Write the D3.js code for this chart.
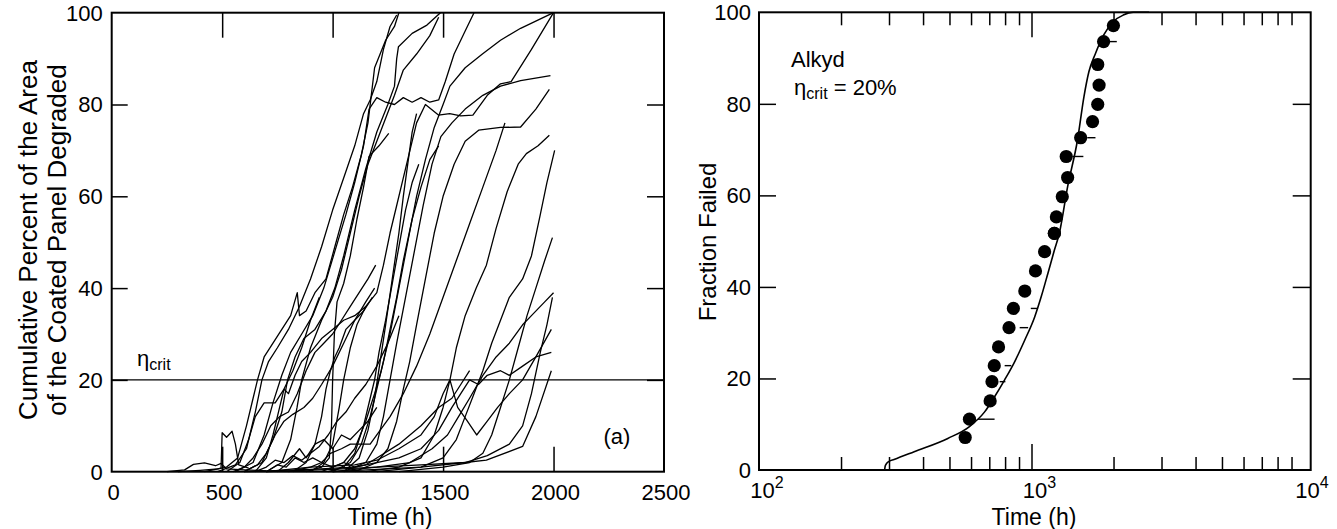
<!DOCTYPE html>
<html>
<head>
<meta charset="utf-8">
<script src="https://cdn.jsdelivr.net/npm/d3@7/dist/d3.min.js"></script>
<style>
  html, body { margin: 0; padding: 0; background: #fff; }
  svg { display: block; font-family: "Liberation Sans", Arial, Helvetica, sans-serif; }
  text { fill: #000; }
</style>
</head>
<body>
<svg id="chart" width="1337" height="529"></svg>
<script>
// ---------------- DATA ----------------
// Panel (a): tick values
const timeTicks = [0, 500, 1000, 1500, 2000, 2500];
const pctTicks = [0, 20, 40, 60, 80, 100];
const etaCrit = 20;

// Panel (a): degradation runs, each a list of [time (h), cumulative % degraded]
const runs = [
  [[250,0],[330,0.4],[370,1.6],[420,1.9],[470,1.3],[495,1.8],[520,0.6],[600,0.4],[700,0.2]],
  [[300,0],[400,0.3],[480,0.6],[495,0.8],[500,8.5],[520,7.5],[545,8.8],[560,6],[575,1.5],[620,0.8]],
  [[420,0],[520,1],[570,3],[610,10],[640,16],[660,20],[690,25],[730,28],[770,31],[810,34],[840,39],[850,34],[880,35],[920,39],[970,42],[1010,49],[1050,56],[1090,62],[1130,69],[1160,76],[1175,82],[1190,88],[1240,94],[1280,97],[1300,100]],
  [[480,0],[560,1.5],[610,5],[650,13],[680,20],[710,24],[750,27],[800,31],[850,36],[900,42],[950,49],[1000,57],[1050,64],[1100,71],[1140,78],[1170,81],[1200,85],[1230,92],[1260,97],[1290,99.5]],
  [[560,0],[640,2],[690,8],[730,15],[770,21],[810,26],[860,30],[910,34],[960,40],[1010,48],[1060,56],[1100,63],[1140,71],[1165,79],[1200,81.5],[1240,80.5],[1280,80],[1320,81.5],[1360,80.5],[1400,81.5],[1440,80.5],[1480,81],[1510,85],[1550,91],[1600,96],[1640,100]],
  [[600,0],[680,2],[730,7],[770,13],[796,20],[830,25],[870,29],[920,31],[970,35],[1010,40],[1050,47],[1100,57],[1150,66],[1200,74],[1250,80],[1280,84],[1290,90],[1298,92.6],[1360,95.5],[1427,97.3],[1488,100]],
  [[700,0],[770,2],[810,7],[839,14],[860,20],[900,27],[950,33],[1000,38],[1040,44],[1080,52],[1120,60],[1160,67],[1200,72],[1240,77],[1280,82],[1320,87.5],[1380,91],[1440,95],[1480,99]],
  [[880,0],[950,1],[985,3],[995,10],[1000,20],[1008,30],[1020,37],[1050,41],[1080,47],[1110,55],[1140,62],[1165,68.7],[1210,71],[1254,73.7]],
  [[900,0],[960,2],[1000,6],[1030,14],[1050,20],[1080,27],[1110,32],[1150,36],[1200,39],[1230,45],[1260,52],[1290,58],[1320,64],[1350,70],[1380,76],[1420,80],[1479,77.7],[1530,78],[1580,77.5],[1635,77.7],[1700,82],[1760,84.5],[1808,85],[1900,92],[2000,100]],
  [[950,0],[1050,2],[1100,5],[1150,11],[1190,17],[1220,22],[1260,30],[1300,40],[1340,50],[1380,60],[1420,68],[1460,75],[1500,80],[1531,84],[1600,88],[1678,91],[1760,94],[1851,96.6],[2000,100]],
  [[1050,0],[1150,2],[1200,6],[1230,12],[1260,20],[1290,28],[1330,38],[1370,48],[1410,58],[1450,67],[1490,73],[1540,76],[1600,79],[1680,82],[1760,84],[1851,85.2],[1986,86.3]],
  [[1100,0],[1200,2],[1250,5],[1290,11],[1320,18],[1349,24],[1380,32],[1420,42],[1460,52],[1500,60],[1550,67],[1600,72],[1661,74.4],[1760,75],[1851,75.1],[1920,79],[1981,83.3]],
  [[1150,0],[1300,1],[1400,3],[1460,8],[1500,14],[1531,20],[1560,27],[1600,34],[1650,40],[1696,45],[1740,53],[1790,61],[1840,67],[1877,69.3],[1930,71],[1981,73.3]],
  [[1200,0],[1400,1],[1500,3],[1560,7],[1600,12],[1640,17],[1680,22],[1720,28],[1760,33],[1800,38],[1860,42],[1900,47],[1940,56],[1970,63],[2005,70]],
  [[1300,0],[1500,1],[1620,2],[1680,4],[1720,8],[1760,14],[1800,20],[1840,27],[1880,34],[1920,40],[1960,46],[1995,51]],
  [[1000,0],[1200,1],[1350,2],[1450,5],[1520,8],[1570,12],[1620,16],[1680,21],[1740,25],[1800,28],[1860,32],[1900,34],[1960,37],[2000,39]],
  [[700,0],[900,1],[1100,1.5],[1200,2.5],[1300,5],[1400,8],[1460,12],[1500,17],[1531,20],[1566,14],[1610,11],[1652,8],[1700,11],[1747,14],[1800,17],[1860,20],[1920,25],[1990,31]],
  [[600,0],[900,0.5],[1100,1],[1200,2],[1300,3],[1400,5],[1480,9],[1540,14],[1580,17],[1620,20],[1660,19],[1700,21],[1760,22],[1800,21],[1860,23],[1920,25],[1990,26]],
  [[1000,0],[1200,0.5],[1400,1],[1600,2],[1700,3.5],[1800,6],[1860,10],[1900,17],[1940,26],[1970,32],[1995,38]],
  [[700,0],[1000,0.5],[1200,1],[1400,1.5],[1600,2],[1696,2.5],[1860,5.5],[1920,12],[1990,22]],
  [[550,0],[600,1],[640,3],[680,6],[720,10],[760,12],[800,13],[840,17],[880,22],[920,26],[960,28],[1000,30],[1040,33],[1080,36],[1120,39],[1160,42],[1195,45]],
  [[600,0],[660,1.5],[700,4],[740,8],[780,11],[820,12.5],[870,14],[910,16],[950,19],[1000,23],[1050,28],[1100,33],[1150,37],[1190,40]],
  [[650,0],[700,1],[740,2.5],[780,2],[820,3.5],[860,2.5],[900,4],[940,5.5],[980,8],[1020,11],[1060,13],[1100,16],[1150,19],[1200,23],[1250,28],[1300,34]],
  [[700,0],[750,1.5],[790,1],[830,3],[870,2],[910,3],[950,2],[990,4],[1040,5],[1080,6],[1130,6],[1170,6],[1200,8],[1260,12],[1320,17],[1380,23],[1440,30],[1500,38],[1560,46],[1620,54],[1680,62],[1740,70],[1780,76]],
  [[750,0],[800,2],[850,5],[880,3],[920,6],[960,7],[1000,5],[1040,8],[1080,7],[1120,9],[1160,11],[1200,14]],
  [[800,0],[900,1],[950,2],[1000,1],[1050,2],[1100,1],[1150,1.5],[1200,3],[1300,6],[1400,10],[1480,14],[1540,16],[1580,19],[1620,22]],
  [[980,0],[1050,1],[1100,4],[1140,10],[1170,16],[1190,20],[1210,26],[1240,33],[1270,41],[1300,49],[1330,57],[1360,63],[1390,67]],
  [[1000,0],[1080,2],[1130,6],[1170,12],[1200,18],[1230,24],[1260,31],[1290,38],[1320,46],[1360,55],[1400,62],[1440,68],[1480,71]],
  [[820,0],[880,2],[920,6],[950,12],[970,18],[990,22],[1010,25],[1030,27],[1060,31],[1100,33],[1140,35],[1180,38]],
  [[650,0],[700,3],[730,8],[760,14],[780,18],[800,17],[830,21],[860,24],[900,26],[950,29],[1000,31],[1050,33],[1100,34],[1150,36]],
  [[1050,0],[1120,3],[1160,9],[1190,16],[1215,24],[1240,32],[1270,42],[1300,52],[1320,60],[1340,67],[1360,74],[1380,78]],
  [[520,0],[580,2],[620,7],[650,12],[690,15],[740,15],[780,18],[820,22],[860,27],[900,33],[940,38]]
];

// Panel (b): failure times and fraction failed (Alkyd)
const failTimes = [571, 592, 705, 716, 730, 757, 827, 858, 945, 1034, 1117, 1213, 1213, 1234, 1297, 1357, 1341, 1515, 1675, 1750, 1770, 1750, 1839, 1998];
const failPct   = [7.1, 11.1, 15.1, 19.3, 22.8, 26.9, 31.1, 35.3, 39.1, 43.5, 47.7, 51.7, 51.7, 55.3, 59.7, 63.9, 68.5, 72.6, 76.1, 79.9, 84.1, 88.6, 93.6, 97.1];

// Panel (b): fitted model curve
const fitTime = [289, 291, 300, 313, 371, 493, 592, 673, 732, 797, 868, 945, 1028, 1086, 1149, 1213, 1265, 1357, 1475, 1558, 1624, 1717, 1839, 1998, 2172, 2360, 2700];
const fitPct  = [0, 1.0, 1.9, 2.3, 4.0, 6.9, 9.5, 12.7, 16.0, 19.7, 23.7, 28.4, 33.5, 37.9, 43.0, 48.0, 51.7, 61.9, 72.1, 81.6, 87.0, 91.0, 95.0, 98.0, 99.4, 100, 100];

// Panel (b): short horizontal stubs beside some points
const stubT0  = [636, 764, 797, 905, 994, 1414, 1602, 1917];
const stubT1  = [732, 802, 843, 972, 1057, 1550, 1717, 2056];
const stubPct = [11.1, 19.3, 22.8, 31.1, 35.3, 68.5, 72.6, 93.6];

const logTicks = [100, 1000, 10000];

// ---------------- DRAW ----------------
const svg = d3.select("#chart");
const FONT = 22;

// Panel (a) scales
const xL = d3.scaleLinear().domain([0, 2500]).range([111.7, 664]);
const yL = d3.scaleLinear().domain([0, 100]).range([471.7, 12.7]);

const gA = svg.append("g");

// runs
const lineA = d3.line().x(d => xL(d[0])).y(d => yL(d[1]));
gA.append("g").selectAll("path").data(runs).join("path")
  .attr("d", lineA)
  .attr("fill", "none").attr("stroke", "#000").attr("stroke-width", 1.3)
  .attr("stroke-linejoin", "round");

// eta crit line
gA.append("line")
  .attr("x1", xL(0)).attr("x2", xL(2500))
  .attr("y1", yL(etaCrit)).attr("y2", yL(etaCrit))
  .attr("stroke", "#000").attr("stroke-width", 1.3);

// ticks (inward)
const innerT = timeTicks.slice(1, -1);
const innerP = pctTicks.slice(1, -1);
function styleAxis(g) {
  g.select(".domain").remove();
  g.selectAll(".tick text").remove();
  g.selectAll(".tick line").attr("stroke", "#000").attr("stroke-width", 1.5);
}
gA.append("g").attr("transform", `translate(0,${yL(0)})`)
  .call(d3.axisBottom(xL).tickValues(innerT).tickSize(-25)).call(styleAxis);
gA.append("g").attr("transform", `translate(0,${yL(100)})`)
  .call(d3.axisTop(xL).tickValues(innerT).tickSize(-25)).call(styleAxis);
gA.append("g").attr("transform", `translate(${xL(0)},0)`)
  .call(d3.axisLeft(yL).tickValues(innerP).tickSize(-16)).call(styleAxis);
gA.append("g").attr("transform", `translate(${xL(2500)},0)`)
  .call(d3.axisRight(yL).tickValues(innerP).tickSize(-17)).call(styleAxis);

// frame
gA.append("rect")
  .attr("x", xL(0)).attr("y", yL(100))
  .attr("width", xL(2500) - xL(0)).attr("height", yL(0) - yL(100))
  .attr("fill", "none").attr("stroke", "#000").attr("stroke-width", 2);

// tick labels
gA.append("g").selectAll("text").data(timeTicks).join("text")
  .attr("x", d => xL(d) + 2).attr("y", 500)
  .attr("text-anchor", "middle").attr("font-size", FONT).text(d => d);
gA.append("g").selectAll("text").data(pctTicks).join("text")
  .attr("x", xL(0) - 9).attr("y", d => yL(d)).attr("dy", "0.36em")
  .attr("text-anchor", "end").attr("font-size", FONT).text(d => d);

// axis titles
gA.append("text").attr("x", 390).attr("y", 525).attr("text-anchor", "middle")
  .attr("font-size", 23).text("Time (h)");
gA.append("text").attr("transform", "translate(37,240) rotate(-90)")
  .attr("text-anchor", "middle").attr("font-size", 26).text("Cumulative Percent of the Area");
gA.append("text").attr("transform", "translate(66,240) rotate(-90)")
  .attr("text-anchor", "middle").attr("font-size", 26).text("of the Coated Panel Degraded");

// annotations
const etaTxt = gA.append("text").attr("x", 137).attr("y", 366).attr("font-size", 22);
etaTxt.append("tspan").text("η");
etaTxt.append("tspan").attr("font-size", 16).attr("dy", 4).text("crit");
gA.append("text").attr("x", 617).attr("y", 444).attr("text-anchor", "middle")
  .attr("font-size", 22).text("(a)");

// Panel (b) scales
const xR = d3.scaleLog().domain([100, 10000]).range([759, 1304]);
const yR = d3.scaleLinear().domain([0, 100]).range([470, 12.3]);
const frameRight = 1310.7;

const gB = svg.append("g");

const minorTicks = xR.ticks().filter(v => !logTicks.includes(v));
const majorInner = logTicks.slice(1, -1);

gB.append("g").attr("transform", `translate(0,${yR(0)})`)
  .call(d3.axisBottom(xR).tickValues(minorTicks).tickSize(-13)).call(styleAxis);
gB.append("g").attr("transform", `translate(0,${yR(0)})`)
  .call(d3.axisBottom(xR).tickValues(majorInner).tickSize(-26)).call(styleAxis);
gB.append("g").attr("transform", `translate(0,${yR(100)})`)
  .call(d3.axisTop(xR).tickValues(minorTicks).tickSize(-13)).call(styleAxis);
gB.append("g").attr("transform", `translate(0,${yR(100)})`)
  .call(d3.axisTop(xR).tickValues(majorInner).tickSize(-25)).call(styleAxis);
gB.append("g").attr("transform", `translate(${xR(100)},0)`)
  .call(d3.axisLeft(yR).tickValues(innerP).tickSize(-17)).call(styleAxis);
gB.append("g").attr("transform", `translate(${frameRight},0)`)
  .call(d3.axisRight(yR).tickValues(innerP).tickSize(-18)).call(styleAxis);

gB.append("rect")
  .attr("x", xR(100)).attr("y", yR(100))
  .attr("width", frameRight - xR(100)).attr("height", yR(0) - yR(100))
  .attr("fill", "none").attr("stroke", "#000").attr("stroke-width", 2);

// fitted curve
const fitData = fitTime.map((t, i) => [t, fitPct[i]]);
gB.append("path")
  .datum(fitData)
  .attr("d", d3.line().x(d => xR(d[0])).y(d => yR(d[1])).curve(d3.curveMonotoneX))
  .attr("fill", "none").attr("stroke", "#000").attr("stroke-width", 1.6);

// stubs
gB.append("g").selectAll("line").data(stubPct).join("line")
  .attr("x1", (d, i) => xR(stubT0[i])).attr("x2", (d, i) => xR(stubT1[i]))
  .attr("y1", d => yR(d)).attr("y2", d => yR(d))
  .attr("stroke", "#000").attr("stroke-width", 1.4);

// points
gB.append("g").selectAll("circle").data(failTimes).join("circle")
  .attr("cx", d => xR(d)).attr("cy", (d, i) => yR(failPct[i]))
  .attr("r", 6.6).attr("fill", "#000");

// tick labels
const expo = { 100: "2", 1000: "3", 10000: "4" };
const xl = gB.append("g").selectAll("text").data(logTicks).join("text")
  .attr("x", d => xR(d) + 8).attr("y", 498)
  .attr("text-anchor", "middle").attr("font-size", FONT);
xl.append("tspan").text("10");
xl.append("tspan").attr("font-size", 16).attr("dy", -10).text(d => expo[d]);

gB.append("g").selectAll("text").data(pctTicks).join("text")
  .attr("x", xR(100) - 8).attr("y", d => yR(d)).attr("dy", "0.36em")
  .attr("text-anchor", "end").attr("font-size", FONT).text(d => d);

gB.append("text").attr("x", 1034).attr("y", 525).attr("text-anchor", "middle")
  .attr("font-size", 23).text("Time (h)");
gB.append("text").attr("transform", "translate(716,242) rotate(-90)")
  .attr("text-anchor", "middle").attr("font-size", 24).text("Fraction Failed");

gB.append("text").attr("x", 791).attr("y", 67).attr("font-size", 22).text("Alkyd");
const eta2 = gB.append("text").attr("x", 794).attr("y", 95).attr("font-size", 22);
eta2.append("tspan").text("η");
eta2.append("tspan").attr("font-size", 16).attr("dy", 4).text("crit");
eta2.append("tspan").attr("dy", -4).text(" = 20%");
</script>
</body>
</html>
